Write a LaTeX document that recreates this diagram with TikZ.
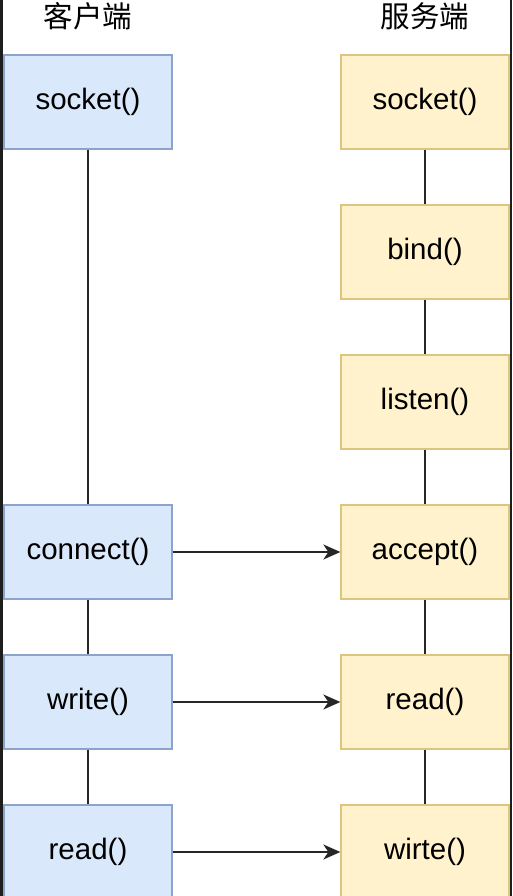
\documentclass[tikz,border=0pt]{standalone}
\usepackage{fontspec}
\setmainfont{Liberation Sans}
\newfontfamily\cjk{Noto Sans CJK SC}
\usetikzlibrary{arrows.meta}
\definecolor{cfill}{HTML}{DAE8FC}
\definecolor{cdraw}{HTML}{8DA3CB}
\definecolor{sfill}{HTML}{FFF2CC}
\definecolor{sdraw}{HTML}{DCC57E}
\definecolor{edge}{HTML}{1E1E1E}
\tikzset{
  box/.style={minimum width=168pt,minimum height=94pt,inner sep=0pt,line width=1.3pt,font=\fontsize{29.5}{33}\selectfont},
  cbox/.style={box,draw=cdraw,fill=cfill},
  sbox/.style={box,draw=sdraw,fill=sfill},
  hdr/.style={font=\cjk\fontsize{29.5}{33}\selectfont,inner sep=0pt},
  link/.style={line width=1.8pt,draw=black!85},
  msg/.style={line width=1.8pt,draw=black!85,-{Stealth[length=17pt,width=15pt,inset=5pt]}}
}
\begin{document}
\begin{tikzpicture}[x=1pt,y=-1pt]
\useasboundingbox (0,0) rectangle (512,896);
\fill[white] (0,0) rectangle (512,896);
\fill[edge] (0,0) rectangle (3,896);
\fill[edge] (509.5,0) rectangle (512,896);
\node[hdr] (hc) at (88,16) {客户端};
\node[hdr] (hs) at (425,16) {服务端};
\node[cbox] (c1) at (88,102) {socket()};
\node[cbox] (c2) at (88,552) {connect()};
\node[cbox] (c3) at (88,702) {write()};
\node[cbox] (c4) at (88,852) {read()};
\node[sbox] (s1) at (425,102) {socket()};
\node[sbox] (s2) at (425,252) {bind()};
\node[sbox] (s3) at (425,402) {listen()};
\node[sbox] (s4) at (425,552) {accept()};
\node[sbox] (s5) at (425,702) {read()};
\node[sbox] (s6) at (425,852) {wirte()};
\draw[link] (c1) -- (c2);
\draw[link] (c2) -- (c3);
\draw[link] (c3) -- (c4);
\draw[link] (s1) -- (s2);
\draw[link] (s2) -- (s3);
\draw[link] (s3) -- (s4);
\draw[link] (s4) -- (s5);
\draw[link] (s5) -- (s6);
\draw[msg] (c2) -- (s4);
\draw[msg] (c3) -- (s5);
\draw[msg] (c4) -- (s6);
\end{tikzpicture}
\end{document}
